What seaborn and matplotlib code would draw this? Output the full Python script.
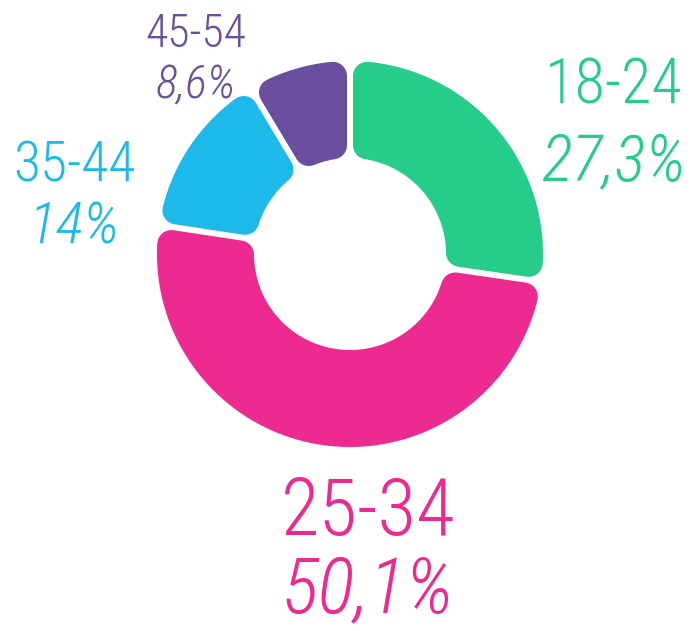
import numpy as np
import matplotlib
matplotlib.use('Agg')
import matplotlib.pyplot as plt
from matplotlib import font_manager
from matplotlib.patches import Polygon
import seaborn as sns

# Data
age_groups = ['18-24', '25-34', '35-44', '45-54']
shares = [27.3, 50.1, 14.0, 8.6]
share_labels = ['27,3%', '50,1%', '14%', '8,6%']
colors = ['#26CC8A', '#EC2A8F', '#1EB9EB', '#6A4F9F']


def pick_font(names):
    for name in names:
        try:
            font_manager.findfont(font_manager.FontProperties(family=name, weight='light'),
                                  fallback_to_default=False)
            return name
        except ValueError:
            continue
    return 'DejaVu Sans'


sns.set_theme(style='white')
font_name = pick_font(['Roboto Condensed', 'Liberation Sans Narrow', 'Roboto'])
plt.rcParams['font.family'] = [font_name, 'DejaVu Sans']

fig = plt.figure(figsize=(6.98, 6.31), dpi=100)
ax = fig.add_axes([0, 0, 1, 1])

# ring geometry in pixel units
cx, cy = 350, 631 - 254
r_out, r_in = 193, 96
s = 14      # corner rounding (px)
g = 6       # gap between segments (px)

wedges, _ = ax.pie(shares, colors=colors, startangle=90, counterclock=False,
                   radius=r_out, center=(cx, cy),
                   wedgeprops=dict(width=r_out - r_in))

# rebuild each wedge with parallel gaps and rounded corners
ro, ri, d = r_out - s, r_in + s, g / 2 + s
for w, c in zip(wedges, colors):
    t1, t2 = w.theta1, w.theta2
    w.set_visible(False)
    da_o = np.degrees(np.arcsin(d / ro))
    da_i = np.degrees(np.arcsin(d / ri))
    a_out = np.radians(np.linspace(t1 + da_o, t2 - da_o, 120))
    a_in = np.radians(np.linspace(t2 - da_i, t1 + da_i, 120))
    pts = np.concatenate([
        np.column_stack([cx + ro * np.cos(a_out), cy + ro * np.sin(a_out)]),
        np.column_stack([cx + ri * np.cos(a_in), cy + ri * np.sin(a_in)]),
    ])
    ax.add_patch(Polygon(pts, closed=True, facecolor=c, edgecolor=c,
                         linewidth=2 * s * 72 / 100, joinstyle='round'))

ax.set_xlim(0, 698)
ax.set_ylim(0, 631)
ax.set_aspect('equal')
ax.axis('off')

# labels: (x, y of name baseline, y of share baseline, name size, share size)
label_pos = {
    '18-24': (614, 631 - 103, 631 - 180, 45, 47),
    '25-34': (368, 631 - 535, 631 - 612, 57, 56),
    '35-44': (74, 631 - 182, 631 - 244, 40, 42),
    '45-54': (196, 631 - 47, 631 - 98, 33, 33),
}
for grp, lab, c in zip(age_groups, share_labels, colors):
    x, y1, y2, fs1, fs2 = label_pos[grp]
    ax.text(x, y1, grp, color=c, fontsize=fs1, fontweight=200,
            ha='center', va='baseline')
    ax.text(x, y2, lab, color=c, fontsize=fs2, fontweight=200,
            fontstyle='italic', ha='center', va='baseline')

fig.savefig('out.png', dpi=100, facecolor='white')
